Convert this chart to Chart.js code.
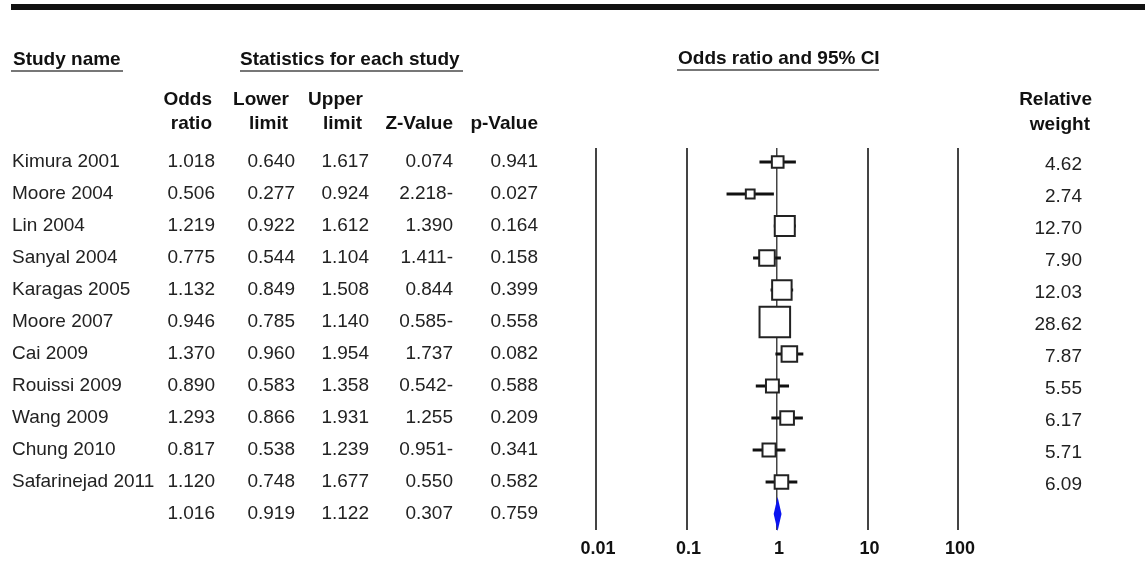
<!DOCTYPE html>
<html>
<head>
<meta charset="utf-8">
<script src="https://cdn.jsdelivr.net/npm/chart.js@4.4.1/dist/chart.umd.min.js"></script>
<style>
html, body { margin: 0; padding: 0; background: #fff; }
canvas { display: block; }
</style>
</head>
<body>
<canvas id="forest" width="1145" height="566"></canvas>
<script>
const studies = ['Kimura 2001', 'Moore 2004', 'Lin 2004', 'Sanyal 2004', 'Karagas 2005', 'Moore 2007',
    'Cai 2009', 'Rouissi 2009', 'Wang 2009', 'Chung 2010', 'Safarinejad 2011'];
const oddsRatio = [1.018, 0.506, 1.219, 0.775, 1.132, 0.946, 1.370, 0.890, 1.293, 0.817, 1.120];
const lowerLimit = [0.640, 0.277, 0.922, 0.544, 0.849, 0.785, 0.960, 0.583, 0.866, 0.538, 0.748];
const upperLimit = [1.617, 0.924, 1.612, 1.104, 1.508, 1.140, 1.954, 1.358, 1.931, 1.239, 1.677];
// z-values are printed with a trailing minus in the source table
const zValue = ['0.074', '2.218-', '1.390', '1.411-', '0.844', '0.585-', '1.737', '0.542-', '1.255', '0.951-', '0.550'];
const pValue = [0.941, 0.027, 0.164, 0.158, 0.399, 0.558, 0.082, 0.588, 0.209, 0.341, 0.582];
const weights = [4.62, 2.74, 12.70, 7.90, 12.03, 28.62, 7.87, 5.55, 6.17, 5.71, 6.09];
// pooled row: odds ratio, lower, upper, z, p
const summaryRow = [1.016, 0.919, 1.122, '0.307', 0.759];
const xTicks = [0.01, 0.1, 1, 10, 100];

const FONT = '"Liberation Sans", Arial, sans-serif';
const SUMMARY_Y = studies.length;

const txt = (ctx, s, x, y, align, bold, size, color) => {
    ctx.font = (bold ? 'bold ' : '') + (size || 19) + 'px ' + FONT;
    ctx.textAlign = align;
    ctx.textBaseline = 'middle';
    ctx.fillStyle = color || '#222';
    ctx.fillText(s, x, y);
};

const hline = (ctx, x1, x2, y, w, color) => {
    ctx.beginPath();
    ctx.moveTo(x1, y);
    ctx.lineTo(x2, y);
    ctx.lineWidth = w;
    ctx.strokeStyle = color;
    ctx.stroke();
};

const forestPlugin = {
    id: 'forest',
    beforeDraw(chart) {
        const ctx = chart.ctx;
        ctx.save();
        ctx.fillStyle = '#fff';
        ctx.fillRect(0, 0, chart.width, chart.height);
        ctx.restore();
    },
    beforeDatasetsDraw(chart) {
        const ctx = chart.ctx;
        const xs = chart.scales.x;
        const ys = chart.scales.y;
        ctx.save();
        // confidence intervals
        for (const i in studies) {
            const y = ys.getPixelForValue(+i);
            hline(ctx, xs.getPixelForValue(lowerLimit[i]), xs.getPixelForValue(upperLimit[i]), y, 3, '#111');
        }
        // pooled diamond
        const yc = ys.getPixelForValue(SUMMARY_Y);
        ctx.beginPath();
        ctx.moveTo(xs.getPixelForValue(summaryRow[1]), yc);
        ctx.lineTo(xs.getPixelForValue(summaryRow[0]), yc - 17);
        ctx.lineTo(xs.getPixelForValue(summaryRow[2]), yc);
        ctx.lineTo(xs.getPixelForValue(summaryRow[0]), yc + 17);
        ctx.closePath();
        ctx.fillStyle = '#0a14f0';
        ctx.fill();
        ctx.restore();
    },
    afterDraw(chart) {
        const ctx = chart.ctx;
        const xs = chart.scales.x;
        const ys = chart.scales.y;
        ctx.save();

        // heavy rule at the top
        ctx.fillStyle = '#111';
        ctx.fillRect(11, 4, chart.width - 11, 6);

        // group headers
        txt(ctx, 'Study name', 13, 60, 'left', true, 19, '#111');
        hline(ctx, 11, 123, 71, 2, '#777');
        txt(ctx, 'Statistics for each study', 240, 60, 'left', true, 19, '#111');
        hline(ctx, 240, 463, 71, 2, '#777');
        txt(ctx, 'Odds ratio and 95% CI', 678, 59, 'left', true, 19, '#111');
        hline(ctx, 677, 879, 70, 2, '#777');

        // column headers
        txt(ctx, 'Odds', 212, 100, 'right', true, 19, '#111');
        txt(ctx, 'ratio', 212, 124, 'right', true, 19, '#111');
        txt(ctx, 'Lower', 289, 100, 'right', true, 19, '#111');
        txt(ctx, 'limit', 288, 124, 'right', true, 19, '#111');
        txt(ctx, 'Upper', 363, 100, 'right', true, 19, '#111');
        txt(ctx, 'limit', 362, 124, 'right', true, 19, '#111');
        txt(ctx, 'Z-Value', 453, 124, 'right', true, 19, '#111');
        txt(ctx, 'p-Value', 538, 124, 'right', true, 19, '#111');
        txt(ctx, 'Relative', 1092, 100, 'right', true, 19, '#111');
        txt(ctx, 'weight', 1090, 125, 'right', true, 19, '#111');

        // study rows
        const colX = [215, 295, 369, 453, 538];
        for (const i in studies) {
            const y = ys.getPixelForValue(+i);
            txt(ctx, studies[i], 12, y, 'left');
            txt(ctx, oddsRatio[i].toFixed(3), colX[0], y, 'right');
            txt(ctx, lowerLimit[i].toFixed(3), colX[1], y, 'right');
            txt(ctx, upperLimit[i].toFixed(3), colX[2], y, 'right');
            txt(ctx, zValue[i], colX[3], y, 'right');
            txt(ctx, pValue[i].toFixed(3), colX[4], y, 'right');
            txt(ctx, weights[i].toFixed(2), 1082, y + 3, 'right');
        }
        const ys11 = ys.getPixelForValue(SUMMARY_Y);
        txt(ctx, summaryRow[0].toFixed(3), colX[0], ys11, 'right');
        txt(ctx, summaryRow[1].toFixed(3), colX[1], ys11, 'right');
        txt(ctx, summaryRow[2].toFixed(3), colX[2], ys11, 'right');
        txt(ctx, summaryRow[3], colX[3], ys11, 'right');
        txt(ctx, summaryRow[4].toFixed(3), colX[4], ys11, 'right');

        // axis labels
        for (const v of xTicks) {
            txt(ctx, String(v), xs.getPixelForValue(v) + 2, 549, 'center', true, 18, '#111');
        }
        ctx.restore();
    }
};

const ctx = document.getElementById('forest');
new Chart(ctx, {
    type: 'scatter',
    data: {
        datasets: [{
            data: oddsRatio.map((v, i) => ({ x: v, y: i })),
            pointStyle: 'rect',
            pointRadius: weights.map(w => 5.9 * Math.sqrt(w) / Math.SQRT2 - 0.7),
            backgroundColor: '#fff',
            borderColor: '#222',
            borderWidth: 2
        }]
    },
    options: {
        responsive: false,
        animation: false,
        events: [],
        layout: { padding: { left: 596, right: 187, top: 148, bottom: 36 } },
        plugins: { legend: { display: false }, tooltip: { enabled: false } },
        scales: {
            x: {
                type: 'logarithmic',
                min: 0.01,
                max: 100,
                afterBuildTicks: (scale) => {
                    scale.ticks = xTicks.map(v => ({ value: v }));
                },
                ticks: { display: false },
                grid: {
                    color: '#444',
                    lineWidth: (c) => (c.tick && c.tick.value === 1 ? 1.5 : 2),
                    drawTicks: false
                },
                border: { display: false }
            },
            y: {
                type: 'linear',
                reverse: true,
                min: -0.4375,
                max: 11.5,
                display: false
            }
        }
    },
    plugins: [forestPlugin]
});
</script>
</body>
</html>
